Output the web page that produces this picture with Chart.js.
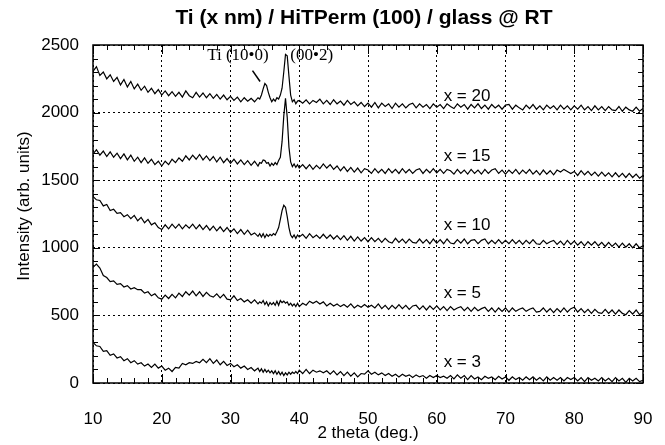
<!DOCTYPE html>
<html><head><meta charset="utf-8">
<script src="https://cdn.jsdelivr.net/npm/chart.js@4.4.0/dist/chart.umd.min.js"></script>
<style>html,body{margin:0;padding:0;background:#fff;}canvas{display:block;}</style>
</head><body><canvas id="c" width="665" height="445"></canvas>
<script>
// 2-theta angles (deg.)
const angles = [
  10,10.5,11,11.5,12,12.5,13,13.5,14,14.5,
  15,15.5,16,16.5,17,17.5,18,18.5,19,19.5,
  20,20.5,21,21.5,22,22.5,23,23.5,24,24.5,
  25,25.5,26,26.5,27,27.5,28,28.5,29,29.5,
  30,30.5,31,31.5,32,32.5,33,33.5,
  34,34.25,34.5,34.75,35,35.25,35.5,35.75,36,36.25,
  36.5,36.75,37,37.25,37.5,37.75,38,38.25,38.5,38.75,
  39,39.25,39.5,39.75,
  40,40.5,41,41.5,42,42.5,43,43.5,44,44.5,
  45,45.5,46,46.5,47,47.5,48,48.5,49,49.5,
  50,50.5,51,51.5,52,52.5,53,53.5,54,54.5,
  55,55.5,56,56.5,57,57.5,58,58.5,59,59.5,
  60,60.5,61,61.5,62,62.5,63,63.5,64,64.5,
  65,65.5,66,66.5,67,67.5,68,68.5,69,69.5,
  70,70.5,71,71.5,72,72.5,73,73.5,74,74.5,
  75,75.5,76,76.5,77,77.5,78,78.5,79,79.5,
  80,80.5,81,81.5,82,82.5,83,83.5,84,84.5,
  85,85.5,86,86.5,87,87.5,88,88.5,89,89.5,
  90
];

const x20 = [
  2305,2340,2275,2300,2250,2280,2230,2260,2205,2245,
  2190,2230,2175,2210,2165,2195,2150,2180,2140,2170,
  2130,2160,2125,2155,2120,2150,2115,2160,2125,2110,
  2150,2115,2145,2110,2140,2105,2135,2100,2130,2095,
  2120,2090,2115,2080,2110,2085,2105,2080,
  2110,2100,2130,2175,2215,2200,2150,2110,2080,2100,
  2085,2110,2100,2130,2180,2300,2430,2420,2270,2130,
  2080,2095,2065,2085,
  2090,2070,2095,2065,2090,2075,2100,2065,2090,2060,
  2095,2065,2085,2055,2090,2060,2080,2050,2075,2045,
  2070,2040,2075,2035,2070,2045,2065,2030,2070,2040,
  2065,2035,2060,2070,2035,2065,2040,2060,2030,2065,
  2040,2060,2030,2065,2045,2030,2065,2040,2060,2025,
  2060,2035,2065,2030,2055,2025,2060,2035,2055,2025,
  2055,2060,2025,2055,2035,2020,2055,2030,2060,2025,
  2050,2020,2055,2030,2050,2020,2055,2025,2050,2020,
  2050,2025,2055,2020,2045,2015,2050,2020,2045,2015,
  2045,2020,2015,2045,2010,2040,2020,2010,2040,2010,
  2030
];

const x15 = [
  1695,1725,1685,1715,1675,1710,1670,1700,1660,1695,
  1650,1685,1640,1670,1630,1665,1625,1655,1615,1640,
  1605,1640,1615,1655,1630,1665,1640,1680,1650,1685,
  1655,1690,1650,1680,1645,1675,1635,1670,1630,1660,
  1625,1655,1620,1650,1615,1645,1610,1640,
  1605,1630,1625,1650,1645,1625,1630,1605,1625,1610,
  1630,1615,1645,1670,1785,1975,2105,1965,1745,1635,
  1600,1620,1595,1615,
  1590,1615,1585,1615,1580,1610,1585,1620,1590,1615,
  1580,1605,1570,1600,1565,1595,1560,1590,1555,1585,
  1575,1550,1585,1555,1580,1550,1585,1555,1580,1550,
  1585,1555,1580,1550,1575,1585,1550,1580,1555,1585,
  1555,1580,1550,1580,1570,1545,1580,1550,1575,1545,
  1580,1550,1575,1545,1580,1550,1575,1585,1550,1575,
  1545,1575,1550,1580,1545,1575,1550,1580,1545,1570,
  1540,1575,1545,1570,1540,1575,1560,1580,1565,1550,
  1565,1535,1570,1540,1565,1535,1560,1530,1560,1530,
  1555,1525,1555,1525,1550,1520,1550,1520,1545,1515,
  1535
];

const x10 = [
  1380,1355,1350,1310,1320,1275,1285,1255,1260,1230,
  1245,1215,1240,1200,1225,1185,1210,1170,1185,1150,
  1135,1170,1140,1175,1145,1175,1140,1170,1145,1175,
  1140,1170,1135,1165,1130,1160,1125,1155,1120,1150,
  1115,1140,1105,1135,1100,1130,1095,1110,
  1085,1105,1080,1105,1075,1100,1085,1100,1090,1105,
  1095,1120,1150,1210,1275,1315,1300,1230,1150,1095,
  1075,1095,1070,1095,
  1080,1100,1070,1105,1075,1095,1070,1100,1070,1095,
  1065,1090,1060,1090,1055,1085,1050,1080,1050,1075,
  1045,1075,1045,1070,1040,1070,1045,1035,1070,1040,
  1065,1035,1065,1040,1035,1065,1035,1060,1030,1065,
  1035,1060,1030,1065,1035,1030,1060,1035,1065,1030,
  1055,1060,1030,1055,1065,1030,1055,1030,1060,1030,
  1055,1030,1060,1030,1055,1025,1055,1030,1060,1030,
  1025,1055,1030,1045,1055,1025,1050,1020,1055,1025,
  1050,1020,1045,1015,1045,1020,1045,1015,1040,1010,
  1040,1010,1035,1005,1035,1005,1030,1000,1030,1000,
  1015
];

const x5 = [
  855,880,850,795,780,750,755,730,735,710,
  720,695,705,690,690,665,675,645,660,630,
  620,650,625,655,630,665,640,675,650,680,
  645,675,640,670,645,635,660,630,655,620,
  615,645,610,625,600,615,590,615,
  585,600,590,610,580,600,570,595,580,595,
  575,605,575,610,595,605,590,600,575,590,
  570,585,565,590,
  565,590,575,605,590,605,585,600,570,590,
  570,585,565,580,560,585,555,575,560,580,
  560,575,555,585,550,575,545,575,550,580,
  550,575,545,570,575,545,570,540,570,545,
  570,540,565,535,565,540,555,565,535,560,
  530,560,535,550,560,530,555,525,555,530,
  555,525,555,530,545,555,530,545,555,525,
  530,555,525,550,520,550,525,555,525,550,
  560,525,550,520,545,515,545,520,515,545,
  515,540,510,540,515,505,535,510,540,505,
  525
];

const x3 = [
  300,275,270,235,240,205,215,185,195,165,
  180,150,165,140,150,125,140,115,140,110,
  125,95,110,85,115,110,145,135,150,145,
  160,150,175,150,180,145,170,135,160,130,
  145,120,135,110,125,100,115,90,
  110,85,105,80,100,80,95,75,90,70,
  90,65,85,60,80,55,75,60,80,65,
  80,70,85,70,
  95,70,100,70,95,80,90,75,90,65,
  90,60,85,55,80,50,75,45,70,65,
  90,65,80,60,75,55,70,50,65,45,
  65,50,60,40,60,45,55,35,55,40,
  55,40,50,35,55,30,60,35,55,25,
  55,30,45,25,50,35,45,25,50,30,
  45,20,45,25,40,20,45,25,45,20,
  40,15,45,20,40,20,40,15,40,25,
  40,15,40,10,40,20,35,15,40,15,
  35,10,40,15,35,5,35,15,35,10,
  20
];

const seriesData = [x3, x5, x10, x15, x20];
const seriesNames = ['x = 3', 'x = 5', 'x = 10', 'x = 15', 'x = 20'];
// label anchor (2θ, intensity) for each series name
const nameAnchorAngle = [61, 61, 61, 61, 61];
const nameAnchorValue = [150, 660, 1170, 1675, 2120];

const titleText = 'Ti (x nm) / HiTPerm (100) / glass @ RT';
const xTitle = '2 theta (deg.)';
const yTitle = 'Intensity (arb. units)';

const FONT = '"Liberation Sans", Arial, sans-serif';
const SERIF = '"Liberation Serif", "Times New Roman", serif';

const datasets = seriesData.map((vals, i) => ({
  label: seriesNames[i],
  data: angles.map((a, j) => ({x: a, y: vals[j]})),
  borderColor: '#000',
  borderWidth: 1.2,
  pointRadius: 0,
  tension: 0,
  fill: false
}));

const framePlugin = {
  id: 'frame',
  afterDatasetsDraw(chart) {
    const ctx = chart.ctx;
    const a = chart.chartArea;
    const xs = chart.scales.x, ys = chart.scales.y;
    ctx.save();
    ctx.strokeStyle = '#000';
    ctx.lineWidth = 1;
    for (let v = 10; v <= 90; v += 2) {
      const px = Math.round(xs.getPixelForValue(v)) + 0.5;
      const len = (v % 10 === 0) ? 9 : 5;
      ctx.beginPath();
      ctx.moveTo(px, a.bottom); ctx.lineTo(px, a.bottom - len);
      ctx.moveTo(px, a.top); ctx.lineTo(px, a.top + len);
      ctx.stroke();
    }
    for (let v = 0; v <= 2500; v += 100) {
      const py = Math.round(ys.getPixelForValue(v)) + 0.5;
      const len = (v % 500 === 0) ? 7 : 5;
      ctx.beginPath();
      ctx.moveTo(a.left, py); ctx.lineTo(a.left + len, py);
      ctx.moveTo(a.right, py); ctx.lineTo(a.right - len, py);
      ctx.stroke();
    }
    ctx.lineWidth = 1.5;
    ctx.strokeRect(a.left, a.top, a.right - a.left, a.bottom - a.top);

    ctx.fillStyle = '#000';
    ctx.font = '17px ' + FONT;
    ctx.textAlign = 'left';
    ctx.textBaseline = 'middle';
    seriesNames.forEach((n, i) => {
      ctx.fillText(n, xs.getPixelForValue(nameAnchorAngle[i]), ys.getPixelForValue(nameAnchorValue[i]));
    });

    ctx.font = '17px ' + SERIF;
    ctx.fillText('Ti (10\u20220)', xs.getPixelForValue(26.6), ys.getPixelForValue(2420));
    ctx.fillText('(00\u20222)', xs.getPixelForValue(38.7), ys.getPixelForValue(2420));
    ctx.lineWidth = 1.5;
    ctx.beginPath();
    ctx.moveTo(xs.getPixelForValue(33.2), ys.getPixelForValue(2310));
    ctx.lineTo(xs.getPixelForValue(34.3), ys.getPixelForValue(2230));
    ctx.stroke();

    // chart title (centred over the plot area)
    ctx.font = 'bold 21px ' + FONT;
    ctx.textAlign = 'center';
    ctx.fillText(titleText, (a.left + a.right) / 2 - 4, 18);

    // y axis title
    ctx.font = '17px ' + FONT;
    ctx.translate(24, 206);
    ctx.rotate(-Math.PI / 2);
    ctx.fillText(yTitle, 0, 0);
    ctx.restore();
  }
};

new Chart(document.getElementById('c'), {
  type: 'line',
  data: { datasets },
  options: {
    responsive: false,
    animation: false,
    devicePixelRatio: 1,
    layout: { padding: { left: 0, right: 22, top: 45, bottom: 0 } },
    plugins: {
      legend: { display: false },
      tooltip: { enabled: false },
      title: { display: false }
    },
    scales: {
      x: {
        type: 'linear',
        min: 10, max: 90,
        afterFit: (s) => { s.height = 62; },
        ticks: { stepSize: 10, color: '#000', padding: 2, font: { family: FONT, size: 17 }, maxRotation: 0 },
        grid: { color: '#000', lineWidth: 1, drawTicks: true, tickLength: 24, tickColor: 'rgba(0,0,0,0)' },
        border: { display: false, dash: [2, 3] },
        title: { display: true, text: xTitle, color: '#000', font: { family: FONT, size: 17 }, padding: { top: 0, bottom: 1 } }
      },
      y: {
        type: 'linear',
        min: 0, max: 2500,
        afterFit: (s) => { s.width = 93; },
        ticks: { stepSize: 500, color: '#000', padding: 14, font: { family: FONT, size: 17 }, callback: (v) => String(v) },
        grid: { color: '#000', lineWidth: 1, drawTicks: false },
        border: { display: false, dash: [2, 3] }
      }
    }
  },
  plugins: [framePlugin]
});
</script>
</body></html>
